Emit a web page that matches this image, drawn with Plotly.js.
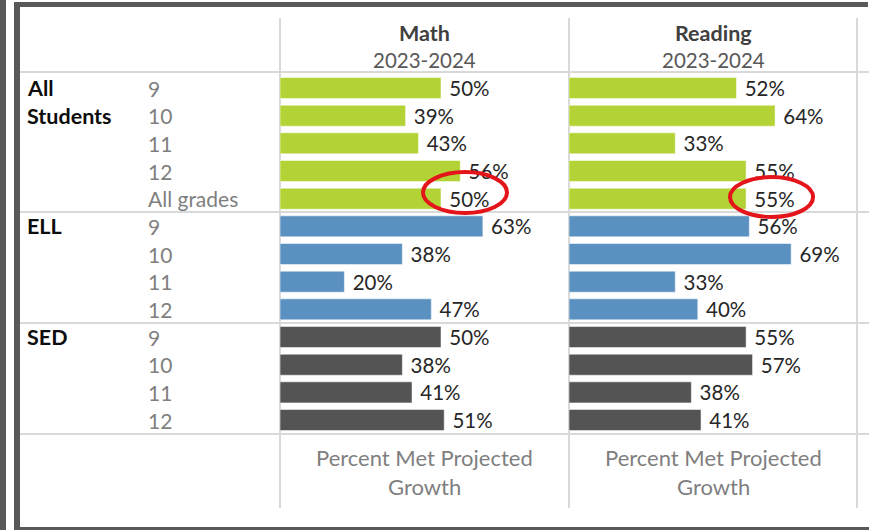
<!DOCTYPE html>
<html>
<head>
<meta charset="utf-8">
<script src="https://cdn.plot.ly/plotly-3.0.1.min.js"></script>
<style>
  body { margin: 0; background: #fff; }
  #chart { width: 869px; height: 530px; }
</style>
</head>
<body>
<div id="chart"></div>
<script>
// row labels
var allGrades = ["9", "10", "11", "12", "All grades"];
var ellGrades = ["9", "10", "11", "12"];
var sedGrades = ["9", "10", "11", "12"];

// Percent Met Projected Growth, 2023-2024
var allMath = [50, 39, 43, 56, 50];
var allReading = [52, 64, 33, 55, 55];
var ellMath = [63, 38, 20, 47];
var ellReading = [56, 69, 33, 40];
var sedMath = [50, 38, 41, 51];
var sedReading = [55, 57, 38, 41];

var W = 869, H = 530;
function px(x) { return x / W; }
function py(y) { return 1 - y / H; }

// row index of each group start
var allStart = 0;
var ellStart = allGrades.length;
var sedStart = ellStart + ellGrades.length;

function rows(start, n) {
  var r = [];
  for (var i = 0; i < n; i++) r.push(start + i);
  return r;
}

function barTrace(vals, start, color, xa) {
  return {
    type: "bar",
    orientation: "h",
    x: vals,
    y: rows(start, vals.length),
    xaxis: xa,
    yaxis: "y",
    width: 0.76,
    marker: {color: color, line: {color: "rgba(255,255,255,0.5)", width: 1}},
    text: vals.map(function (v) { return "\u00a0" + v + "%"; }),
    textposition: "outside",
    cliponaxis: false,
    constraintext: "none",
    textfont: {family: "Lato, sans-serif", size: 20.5, color: "#262626"},
    hoverinfo: "x+y"
  };
}

var green = "#b3d235", blue = "#5b91c0", dark = "#545454";

var data = [
  barTrace(allMath, allStart, green, "x"),
  barTrace(ellMath, ellStart, blue, "x"),
  barTrace(sedMath, sedStart, dark, "x"),
  barTrace(allReading, allStart, green, "x2"),
  barTrace(ellReading, ellStart, blue, "x2"),
  barTrace(sedReading, sedStart, dark, "x2")
];

// grid lines
var gridColor = "#d9d9d9";
var shapes = [];
[72, 212, 323, 434].forEach(function (y) {
  shapes.push({type: "line", xref: "paper", yref: "paper", layer: "below",
    x0: px(20), x1: px(869), y0: py(y), y1: py(y), line: {color: gridColor, width: 2}});
});
[280, 569, 857].forEach(function (x) {
  shapes.push({type: "line", xref: "paper", yref: "paper", layer: "below",
    x0: px(x), x1: px(x), y0: py(18), y1: py(508), line: {color: gridColor, width: 2}});
});

// dark frame of the screenshot
var frame = "#595959";
shapes.push({type: "rect", xref: "paper", yref: "paper", x0: px(0), x1: px(6), y0: py(0), y1: py(530), fillcolor: frame, line: {width: 0}});
shapes.push({type: "rect", xref: "paper", yref: "paper", x0: px(14), x1: px(20), y0: py(2), y1: py(530), fillcolor: frame, line: {width: 0}});
shapes.push({type: "rect", xref: "paper", yref: "paper", x0: px(14), x1: px(868), y0: py(2), y1: py(7), fillcolor: frame, line: {width: 0}});
shapes.push({type: "rect", xref: "paper", yref: "paper", x0: px(14), x1: px(869), y0: py(527), y1: py(530), fillcolor: frame, line: {width: 0}});

// red highlight rings around "All grades"
shapes.push({type: "circle", xref: "x", yref: "y", x0: 44.4, x1: 70.5, y0: 3.04, y1: 4.52, line: {color: "#e3151b", width: 4}});
shapes.push({type: "circle", xref: "x2", yref: "y", x0: 50.0, x1: 75.8, y0: 3.22, y1: 4.66, line: {color: "#e3151b", width: 4}});

var font = "Lato, sans-serif";
var annotations = [];
function note(text, x, y, opts) {
  var a = {text: text, x: px(x), y: py(y), xref: "paper", yref: "paper", showarrow: false,
    xanchor: "center", yanchor: "middle", font: {family: font, size: 20.5, color: "#595959"}};
  for (var k in opts) a[k] = opts[k];
  annotations.push(a);
}

// column headers
note("<b>Math</b>", 424, 33, {font: {family: font, size: 21.5, color: "#404040"}});
note("2023-2024", 424, 60);
note("<b>Reading</b>", 713, 33, {font: {family: font, size: 21.5, color: "#404040"}});
note("2023-2024", 713, 60);

// footers
[424, 713].forEach(function (x) {
  note("Percent Met Projected", x, 457, {font: {family: font, size: 22, color: "#7f7f7f"}});
  note("Growth", x, 486, {font: {family: font, size: 22, color: "#7f7f7f"}});
});

// group and grade labels
function rowLabel(text, row, x, opts) {
  var a = {text: text, x: px(x), y: row, xref: "paper", yref: "y", showarrow: false,
    xanchor: "left", yanchor: "middle", font: {family: font, size: 21, color: "#7f7f7f"}};
  for (var k in opts) a[k] = opts[k];
  annotations.push(a);
}
var bold = {font: {family: font, size: 21.5, color: "#0d0d0d"}};
rowLabel("<b>All</b>", allStart, 25, bold);
rowLabel("<b>Students</b>", allStart + 1, 25, bold);
rowLabel("<b>ELL</b>", ellStart, 25, bold);
rowLabel("<b>SED</b>", sedStart, 25, bold);
allGrades.forEach(function (g, i) { rowLabel(g, allStart + i, 146); });
ellGrades.forEach(function (g, i) { rowLabel(g, ellStart + i, 146); });
sedGrades.forEach(function (g, i) { rowLabel(g, sedStart + i, 146); });

// 3.22 px per percent, rows 27.67 px apart, first row at y = 88
var xMax = 289 / 3.22;
var layout = {
  width: W,
  height: H,
  margin: {l: 0, r: 0, t: 0, b: 0},
  paper_bgcolor: "#ffffff",
  plot_bgcolor: "rgba(0,0,0,0)",
  showlegend: false,
  font: {family: font},
  xaxis: {domain: [px(280), px(569)], range: [0, xMax], visible: false, fixedrange: true},
  xaxis2: {domain: [px(569), px(858)], range: [0, xMax], visible: false, anchor: "y", fixedrange: true},
  yaxis: {domain: [0, 1], range: [(H - 88) / 27.67, -88 / 27.67], visible: false, fixedrange: true},
  shapes: shapes,
  annotations: annotations
};

Plotly.newPlot("chart", data, layout, {displayModeBar: false, staticPlot: true});
</script>
</body>
</html>
